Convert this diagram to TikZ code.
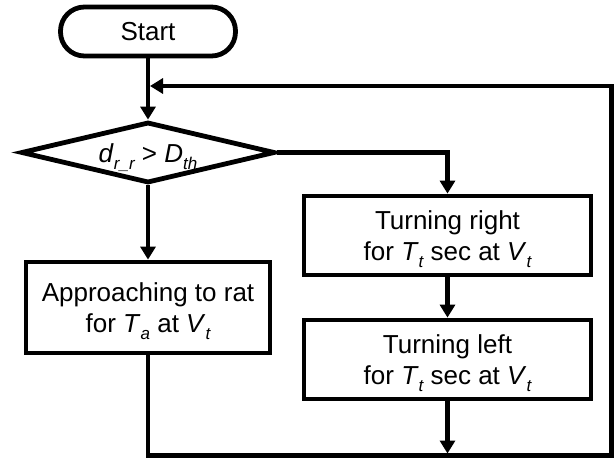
\documentclass[tikz,border=0pt]{standalone}
\usepackage{fontspec}
\setmainfont{Liberation Sans}
\usetikzlibrary{arrows.meta,shapes.geometric}
\newcommand{\mysub}[1]{\raisebox{-0.28em}{\fontsize{17}{17}\selectfont\itshape #1}}
\begin{document}
\begin{tikzpicture}[x=1pt,y=-1pt,
  every node/.style={font=\fontsize{26}{31.5}\selectfont, align=center, inner sep=0pt},
  box/.style={rectangle, draw, line width=4.8pt, text depth=0pt},
  flow/.style={line width=4.8pt, -{Triangle[length=13pt,width=15pt]}},
  plain/.style={line width=4.8pt}]
\useasboundingbox (0,0) rectangle (614,458);
\node[box, rounded corners=24pt, minimum width=175pt, minimum height=49pt] (start) at (148,31.5) {Start};
\node[diamond, draw, line width=4.8pt, aspect=4, minimum width=254pt, minimum height=61pt] (dec) at (148,152.5)
  {\raisebox{-10pt}[0pt][0pt]{\makebox[0pt]{\textit{d}\mysub{r\_r} > \textit{D}\mysub{th}}}};
\node[box, minimum width=287pt, minimum height=79pt] (tr) at (447.5,235.5)
  {Turning right\\for \textit{T}\mysub{t} sec at \textit{V}\mysub{t}};
\node[box, minimum width=287pt, minimum height=79pt] (tl) at (447.5,359.5)
  {Turning left\\for \textit{T}\mysub{t} sec at \textit{V}\mysub{t}};
\node[box, minimum width=244pt, minimum height=91pt] (ap) at (148,307.5)
  {Approaching to rat\\for \textit{T}\mysub{a} at \textit{V}\mysub{t}};
\coordinate (br) at (611.6,455.6);
\coordinate (jn) at (150,86);
\coordinate (bm) at (447.5,453.5);
\draw[flow] (start) -- (dec);
\draw[flow] (dec.east) -| (tr.north);
\draw[flow] (tr) -- (tl);
\draw[flow] (dec) -- (ap);
\draw[flow] (tl.south) -- (bm);
\draw[flow] (ap.south) |- (br) |- (jn);
\end{tikzpicture}
\end{document}
